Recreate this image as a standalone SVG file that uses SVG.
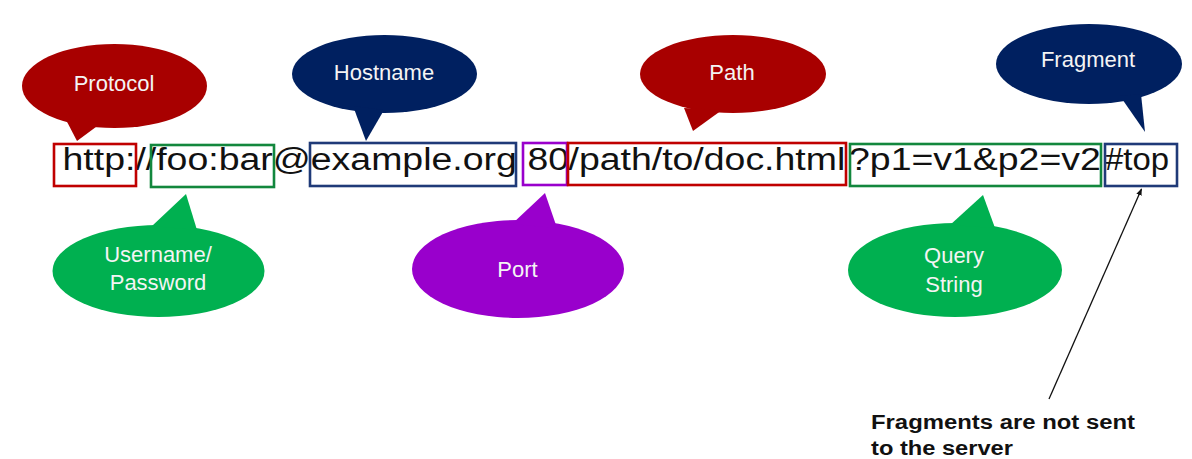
<svg xmlns="http://www.w3.org/2000/svg" width="1192" height="459" viewBox="0 0 1192 459">
<defs>
<style>
.lbl{font-family:"Liberation Sans",Arial,sans-serif;font-size:22px;fill:#f4f4f4;text-anchor:middle}
.url{font-family:"Liberation Sans",Arial,sans-serif;font-size:31px;fill:#111}
.note{font-family:"Liberation Sans",Arial,sans-serif;font-size:20px;font-weight:bold;fill:#111}
.box{fill:none;stroke-width:2.6}
.red{fill:#a80000}
.navy{fill:#002060}
.green{fill:#00b050}
.purple{fill:#9900cc}
</style>
<marker id="ah" viewBox="0 0 10 10" refX="9" refY="5" markerWidth="7" markerHeight="7" orient="auto-start-reverse" markerUnits="userSpaceOnUse">
<path d="M0,1 L10,5 L0,9 z" fill="#111"/>
</marker>
</defs>
<rect width="1192" height="459" fill="#ffffff"/>

<g id="url-text">
<text class="url" x="62.5" y="170" textLength="93.7" lengthAdjust="spacingAndGlyphs">http://</text>
<text class="url" x="156.2" y="170" textLength="116.6" lengthAdjust="spacingAndGlyphs">foo:bar</text>
<text class="url" x="272.8" y="170" textLength="38" lengthAdjust="spacingAndGlyphs">@</text>
<text class="url" x="310.8" y="170" textLength="206" lengthAdjust="spacingAndGlyphs">example.org</text>
<text class="url" x="527.5" y="170" textLength="41.6" lengthAdjust="spacingAndGlyphs">80</text>
<text class="url" x="568.5" y="170" textLength="276.7" lengthAdjust="spacingAndGlyphs">/path/to/doc.html</text>
<text class="url" x="849" y="170" textLength="251.8" lengthAdjust="spacingAndGlyphs">?p1=v1&amp;p2=v2</text>
<text class="url" x="1105" y="170" textLength="64" lengthAdjust="spacingAndGlyphs">#top</text>
</g>

<g id="boxes">
<rect id="box-protocol" class="box" x="54" y="144" width="82" height="42" stroke="#c00000"/>
<rect id="box-userpass" class="box" x="151" y="145" width="123" height="42" stroke="#12873d"/>
<rect id="box-host" class="box" x="310" y="143" width="206" height="43" stroke="#1f3a78"/>
<rect id="box-port" class="box" x="523" y="143" width="44" height="42" stroke="#9900cc"/>
<rect id="box-path" class="box" x="568" y="143" width="278" height="42" stroke="#c00000"/>
<rect id="box-query" class="box" x="850" y="144" width="251" height="42" stroke="#12873d"/>
<rect id="box-fragment" class="box" x="1105" y="144" width="72" height="42" stroke="#1f3a78"/>
</g>

<g id="protocol">
<ellipse class="red" cx="114.5" cy="86" rx="92.5" ry="42"/>
<polygon class="red" points="64,116 77,141 100,124"/>
<text class="lbl" x="114" y="91">Protocol</text>
</g>

<g id="hostname">
<ellipse class="navy" cx="384.5" cy="74" rx="92.5" ry="39"/>
<polygon class="navy" points="353,106 366,141 384,110"/>
<text class="lbl" x="384" y="80">Hostname</text>
</g>

<g id="path">
<ellipse class="red" cx="733" cy="74" rx="93" ry="39"/>
<polygon class="red" points="684,108 693,131 722,110"/>
<text class="lbl" x="732" y="80">Path</text>
</g>

<g id="fragment">
<ellipse class="navy" cx="1089" cy="64" rx="93" ry="40"/>
<polygon class="navy" points="1120,96 1145,132 1141,94"/>
<text class="lbl" x="1088" y="67">Fragment</text>
</g>

<g id="userpass">
<ellipse class="green" cx="158.5" cy="271" rx="106" ry="46"/>
<polygon class="green" points="152,226 186,194 197,230"/>
<text class="lbl" x="158" y="262">Username/</text>
<text class="lbl" x="158" y="290">Password</text>
</g>

<g id="port">
<ellipse class="purple" cx="518" cy="269" rx="106" ry="49"/>
<polygon class="purple" points="512,224 545,193 557,228"/>
<text class="lbl" x="517.5" y="277">Port</text>
</g>

<g id="query">
<ellipse class="green" cx="955" cy="270" rx="107" ry="47"/>
<polygon class="green" points="950,225 983,195 995,228"/>
<text class="lbl" x="954" y="263">Query</text>
<text class="lbl" x="954" y="292">String</text>
</g>

<g id="connectors">
<line x1="1049" y1="399" x2="1141.5" y2="189" stroke="#111" stroke-width="1.3" marker-end="url(#ah)"/>
</g>

<g id="note">
<text class="note" x="871" y="429" textLength="264" lengthAdjust="spacingAndGlyphs">Fragments are not sent</text>
<text class="note" x="871" y="455" textLength="142" lengthAdjust="spacingAndGlyphs">to the server</text>
</g>
</svg>
